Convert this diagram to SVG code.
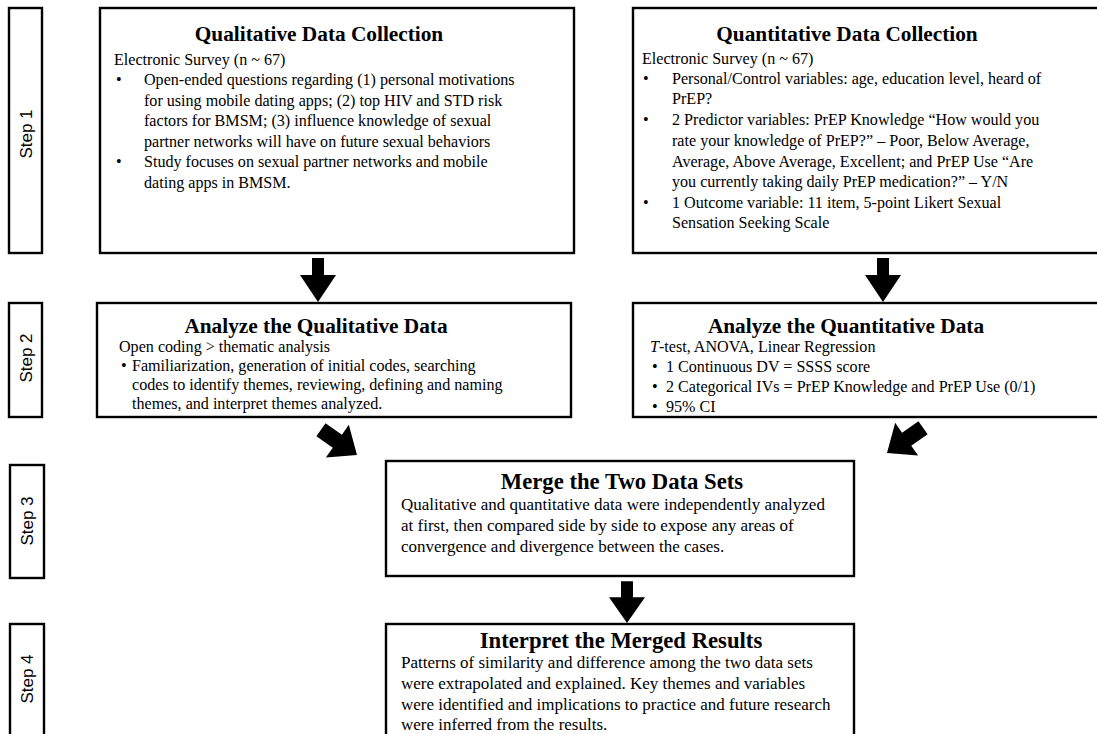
<svg xmlns="http://www.w3.org/2000/svg" width="1097" height="734" viewBox="0 0 1097 734">
<style>
.box{fill:#fff;stroke:#000;stroke-width:2.4}
.step{font-family:"Liberation Sans",Arial,sans-serif;font-size:17px;fill:#000}
.t{font-family:"Liberation Serif","Times New Roman",serif;font-size:21.3px;font-weight:bold;fill:#000;text-anchor:middle}
.t2{font-family:"Liberation Serif","Times New Roman",serif;font-size:22.7px;font-weight:bold;fill:#000;text-anchor:middle}
.b{font-family:"Liberation Serif","Times New Roman",serif;font-size:16.1px;fill:#000}
.b2{font-family:"Liberation Serif","Times New Roman",serif;font-size:17px;fill:#000}
.arr{fill:#000}
</style>
<defs>
<path id="down" d="M -6,-44 L 6,-44 L 6,-27 L 18,-27 L 0,0 L -18,-27 L -6,-27 Z"/>
<path id="diag" d="M -8,-44 L 8,-44 L 8,-24 L 20,-24 L 0,0 L -20,-24 L -8,-24 Z"/>
</defs>
<rect width="1097" height="734" fill="#fff"/>

<g id="step1"><rect class="box" x="9" y="8" width="33" height="245"/><text class="step" transform="translate(32,134) rotate(-90)" text-anchor="middle">Step 1</text></g>
<g id="step2"><rect class="box" x="9" y="303" width="33" height="114"/><text class="step" transform="translate(32,358) rotate(-90)" text-anchor="middle">Step 2</text></g>
<g id="step3"><rect class="box" x="10" y="465" width="34" height="113"/><text class="step" transform="translate(33,521) rotate(-90)" text-anchor="middle">Step 3</text></g>
<g id="step4"><rect class="box" x="10" y="624" width="34" height="120"/><text class="step" transform="translate(33,679) rotate(-90)" text-anchor="middle">Step 4</text></g>

<g id="qual-collection">
<rect class="box" x="100" y="8" width="474" height="245"/>
<text class="t" x="319" y="41">Qualitative Data Collection</text>
<text class="b" x="114" y="65">Electronic Survey (n ~ 67)</text>
<text class="b" x="116" y="85">•</text>
<text class="b" x="144" y="85">Open-ended questions regarding (1) personal motivations</text>
<text class="b" x="144" y="106">for using mobile dating apps; (2) top HIV and STD risk</text>
<text class="b" x="144" y="126">factors for BMSM; (3) influence knowledge of sexual</text>
<text class="b" x="144" y="147">partner networks will have on future sexual behaviors</text>
<text class="b" x="116" y="167">•</text>
<text class="b" x="144" y="167">Study focuses on sexual partner networks and mobile</text>
<text class="b" x="144" y="188">dating apps in BMSM.</text>
</g>

<g id="quant-collection">
<rect class="box" x="633" y="8" width="470" height="245"/>
<text class="t" x="847" y="41">Quantitative Data Collection</text>
<text class="b" x="642" y="64">Electronic Survey (n ~ 67)</text>
<text class="b" x="643" y="84">•</text>
<text class="b" x="672" y="84">Personal/Control variables: age, education level, heard of</text>
<text class="b" x="672" y="104">PrEP?</text>
<text class="b" x="643" y="125">•</text>
<text class="b" x="672" y="125">2 Predictor variables: PrEP Knowledge “How would you</text>
<text class="b" x="672" y="146">rate your knowledge of PrEP?” – Poor, Below Average,</text>
<text class="b" x="672" y="167">Average, Above Average, Excellent; and PrEP Use “Are</text>
<text class="b" x="672" y="187">you currently taking daily PrEP medication?” – Y/N</text>
<text class="b" x="643" y="208">•</text>
<text class="b" x="672" y="208">1 Outcome variable: 11 item, 5-point Likert Sexual</text>
<text class="b" x="672" y="228">Sensation Seeking Scale</text>
</g>

<g id="qual-analysis">
<rect class="box" x="97" y="303" width="474" height="114"/>
<text class="t" x="316" y="333">Analyze the Qualitative Data</text>
<text class="b" x="119" y="352">Open coding &gt; thematic analysis</text>
<text class="b" x="121" y="371">•</text>
<text class="b" x="132" y="371">Familiarization, generation of initial codes, searching</text>
<text class="b" x="132" y="390">codes to identify themes, reviewing, defining and naming</text>
<text class="b" x="132" y="409">themes, and interpret themes analyzed.</text>
</g>

<g id="quant-analysis">
<rect class="box" x="633" y="303" width="470" height="114"/>
<text class="t" x="846" y="333">Analyze the Quantitative Data</text>
<text class="b" x="650" y="352"><tspan font-style="italic">T</tspan>-test, ANOVA, Linear Regression</text>
<text class="b" x="652" y="372">•</text>
<text class="b" x="666" y="372">1 Continuous DV = SSSS score</text>
<text class="b" x="652" y="392">•</text>
<text class="b" x="666" y="392">2 Categorical IVs = PrEP Knowledge and PrEP Use (0/1)</text>
<text class="b" x="652" y="412">•</text>
<text class="b" x="666" y="412">95% CI</text>
</g>

<g id="merge">
<rect class="box" x="386" y="461" width="468" height="115"/>
<text class="t2" x="622" y="489">Merge the Two Data Sets</text>
<text class="b2" x="401" y="510">Qualitative and quantitative data were independently analyzed</text>
<text class="b2" x="401" y="531">at first, then compared side by side to expose any areas of</text>
<text class="b2" x="401" y="552">convergence and divergence between the cases.</text>
</g>

<g id="interpret">
<rect class="box" x="386" y="624" width="468" height="120"/>
<text class="t2" x="621" y="648">Interpret the Merged Results</text>
<text class="b2" x="401" y="668">Patterns of similarity and difference among the two data sets</text>
<text class="b2" x="401" y="689">were extrapolated and explained. Key themes and variables</text>
<text class="b2" x="401" y="710">were identified and implications to practice and future research</text>
<text class="b2" x="401" y="730">were inferred from the results.</text>
</g>

<g id="connectors" class="arr">
<use href="#down" transform="translate(318,302)"/>
<use href="#down" transform="translate(883,302)"/>
<use href="#down" transform="translate(627,623) scale(1,0.95)"/>
<use href="#diag" transform="translate(357,455) rotate(-55)"/>
<use href="#diag" transform="translate(887,453) rotate(55)"/>
</g>
</svg>
